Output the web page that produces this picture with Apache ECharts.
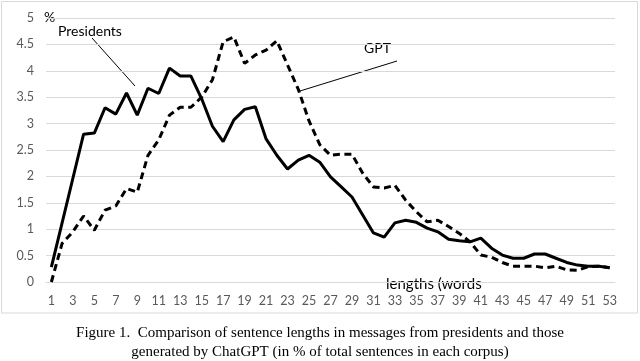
<!DOCTYPE html>
<html><head><meta charset="utf-8">
<script src="https://cdn.jsdelivr.net/npm/echarts@6/dist/echarts.min.js"></script>
<style>html,body{margin:0;padding:0;background:#fff}#c{width:640px;height:361px}</style>
</head><body><div id="c"></div>
<script>
const categories = [];
for (let i = 1; i <= 53; i++) categories.push(String(i));
const presidents = [0.28,1.12,1.96,2.8,2.82,3.3,3.18,3.58,3.16,3.67,
  3.57,4.05,3.9,3.9,3.47,2.95,2.66,3.07,3.27,3.32,
  2.71,2.4,2.14,2.31,2.4,2.27,1.99,1.8,1.61,1.27,
  0.93,0.85,1.12,1.17,1.13,1.02,0.95,0.81,0.78,0.76,
  0.83,0.64,0.51,0.45,0.45,0.53,0.53,0.45,0.37,0.32,
  0.3,0.3,0.27];
const gpt = [0,0.73,0.95,1.25,0.98,1.36,1.44,1.77,1.7,2.4,
  2.69,3.16,3.31,3.31,3.5,3.83,4.55,4.64,4.14,4.3,
  4.39,4.57,4.11,3.65,3.05,2.6,2.4,2.42,2.42,2.06,
  1.8,1.78,1.83,1.55,1.33,1.14,1.17,1.05,0.92,0.76,
  0.51,0.47,0.37,0.3,0.3,0.3,0.27,0.3,0.23,0.22,
  0.29,0.3,0.27];
const seriesNames = ['Presidents', 'GPT'];
const captionLines = ['Figure 1.  Comparison of sentence lengths in messages from presidents and those',
  'generated by ChatGPT (in % of total sentences in each corpus)'];

const chart = echarts.init(document.getElementById('c'), null, {renderer: 'canvas'});
const font = 'Lato, "Liberation Sans", sans-serif';
const serif = '"Liberation Serif", "Times New Roman", serif';
chart.setOption({
  animation: false,
  backgroundColor: '#fff',
  grid: {left: 46, right: 25, top: 18, bottom: 79},
  xAxis: {
    type: 'category', data: categories, boundaryGap: true,
    axisLine: {lineStyle: {color: '#d9d9d9', width: 1}},
    axisTick: {show: false},
    axisLabel: {interval: 1, color: '#595959', fontSize: 12.5, fontFamily: font, margin: 12}
  },
  yAxis: {
    type: 'value', min: 0, max: 5, interval: 0.5,
    axisLine: {show: false}, axisTick: {show: false},
    splitLine: {lineStyle: {color: '#d9d9d9', width: 1}},
    axisLabel: {color: '#595959', fontSize: 12.5, fontFamily: font, margin: 12}
  },
  series: [
    {name: seriesNames[0], type: 'line', data: presidents, symbol: 'none',
      lineStyle: {color: '#000', width: 3}, z: 3},
    {name: seriesNames[1], type: 'line', data: gpt, symbol: 'none',
      lineStyle: {color: '#000', width: 3, type: [7, 4.5]}, z: 3}
  ],
  graphic: [
    {type: 'rect', shape: {x: 1.5, y: 1.5, width: 636, height: 311.5},
      style: {fill: null, stroke: '#d9d9d9', lineWidth: 1}, z: -1},
    {type: 'text', x: 44, y: 10, style: {text: '%', fontSize: 14, fontFamily: font, fill: '#000'}},
    {type: 'text', x: 58, y: 24, style: {text: seriesNames[0], fontSize: 14, fontFamily: font, fill: '#000'}},
    {type: 'line', shape: {x1: 92, y1: 38, x2: 135, y2: 86}, style: {stroke: '#000', lineWidth: 1}},
    {type: 'text', x: 364, y: 41, style: {text: seriesNames[1], fontSize: 14, fontFamily: font, fill: '#000'}},
    {type: 'line', shape: {x1: 397, y1: 61, x2: 300, y2: 91}, style: {stroke: '#000', lineWidth: 1}},
    {type: 'text', x: 386, y: 277, style: {text: 'lengths (words', fontSize: 15, fontFamily: font, fill: '#000'}},
    {type: 'text', x: 320, y: 326, style: {text: captionLines[0], fontSize: 15, fontFamily: serif, fill: '#000', align: 'center'}},
    {type: 'text', x: 320, y: 345, style: {text: captionLines[1], fontSize: 15, fontFamily: serif, fill: '#000', align: 'center'}}
  ]
});
</script></body></html>
